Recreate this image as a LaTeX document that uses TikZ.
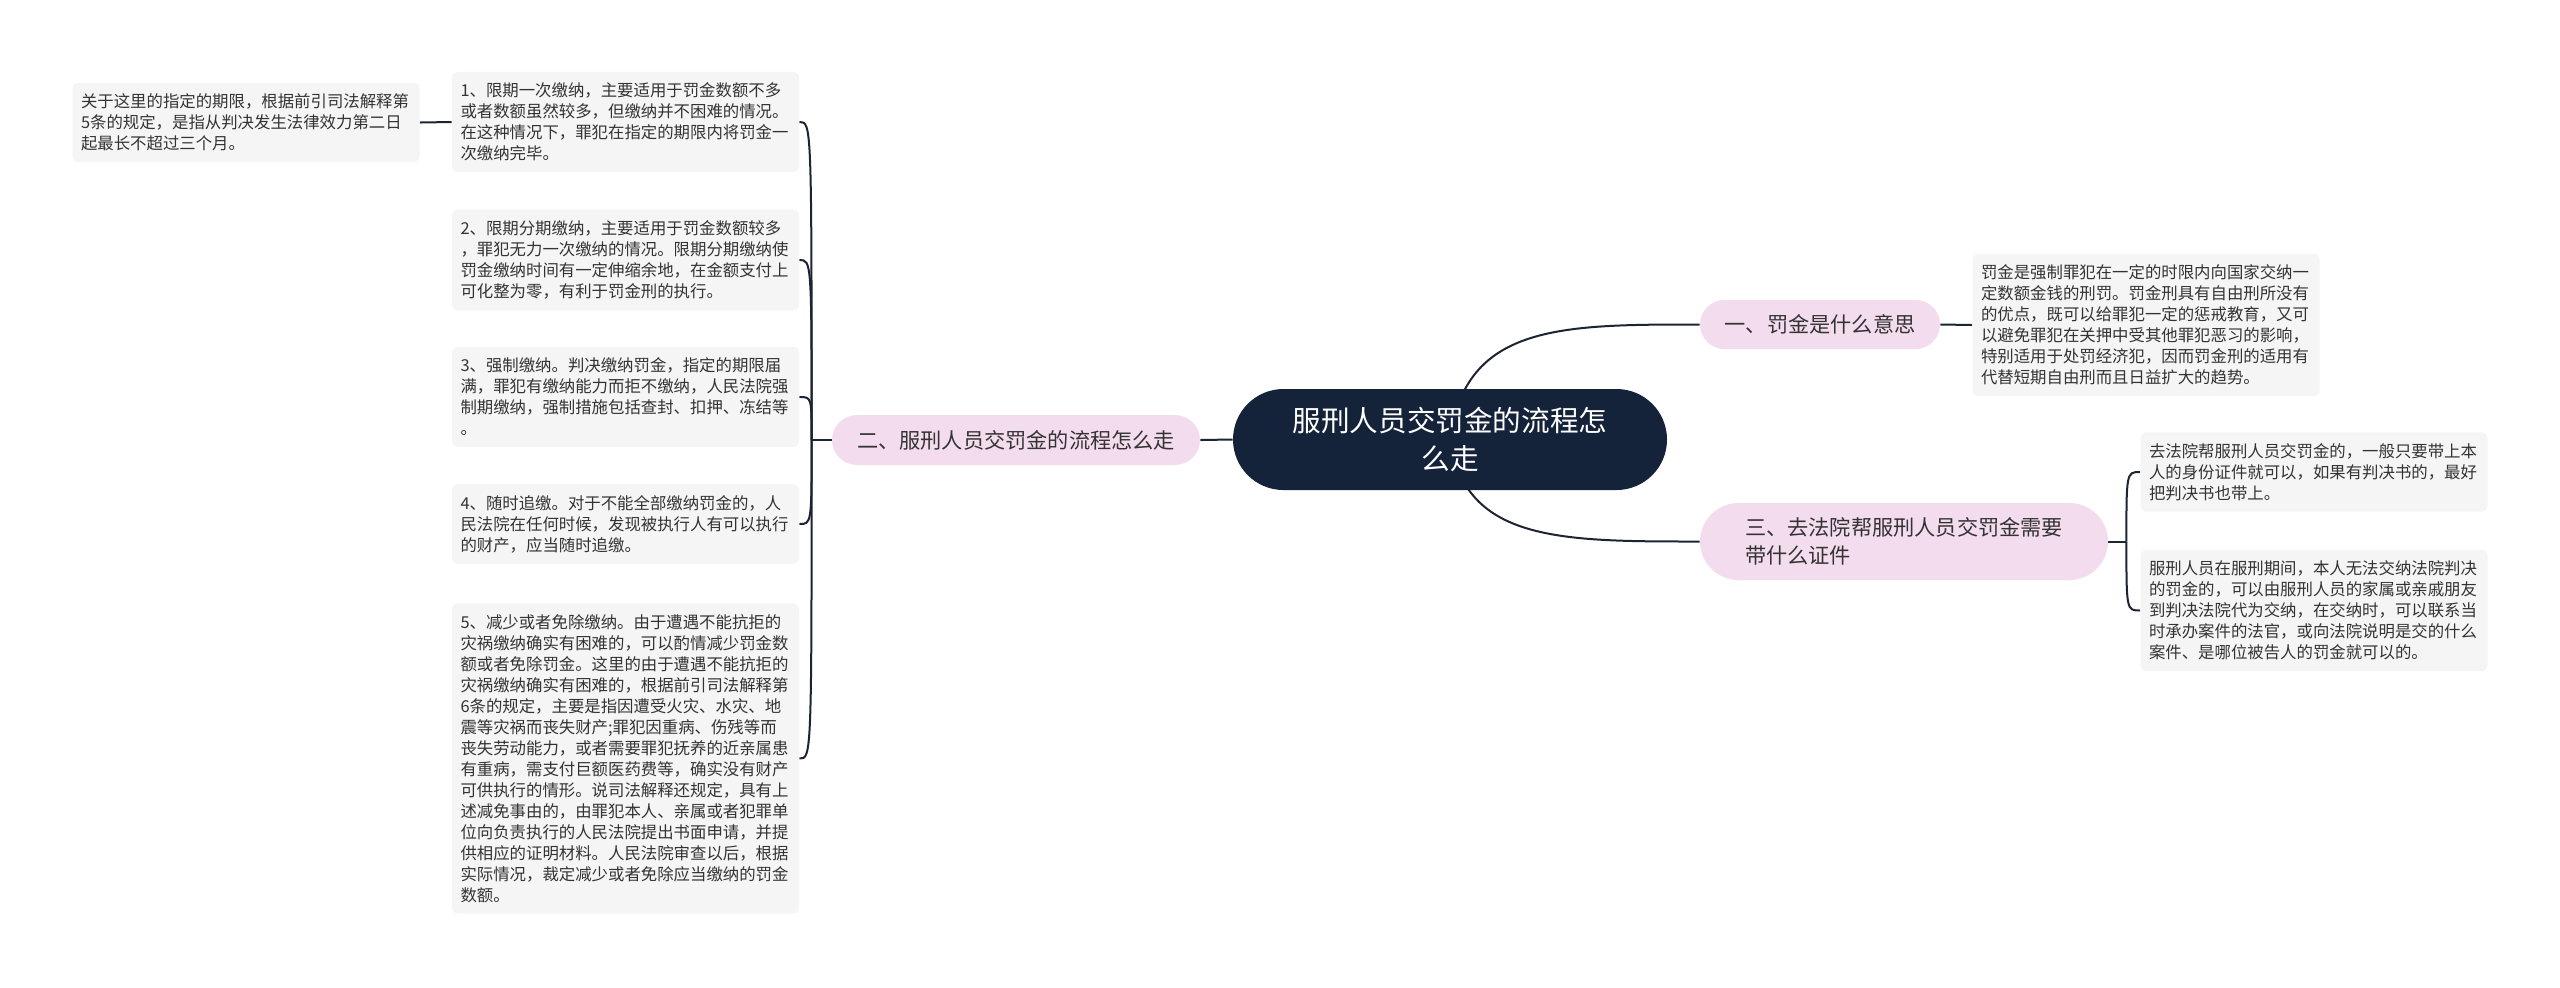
\documentclass[tikz,border=0pt]{standalone}
\usepackage{fontspec}
\usepackage{xcolor}
\usetikzlibrary{shapes.misc,backgrounds}
\newfontfamily\cjk{Noto Sans CJK SC}
\definecolor{RootColor}{HTML}{15233A}
\definecolor{BranchColor}{HTML}{F4DCEF}
\definecolor{LeafColor}{HTML}{F5F5F5}
\definecolor{LineColor}{HTML}{1C2433}
\definecolor{TextColor}{HTML}{333333}

\begin{document}
\begin{tikzpicture}[x=0.5pt, y=-0.5pt,
  rootnode/.style={rounded rectangle, fill=RootColor, text=white, align=center,
    inner sep=0pt, minimum width=217pt, minimum height=50.5pt,
    font=\cjk\fontsize{14.3}{19}\selectfont},
  branchnode/.style={rounded rectangle, fill=BranchColor, text=TextColor,
    inner sep=0pt, minimum height=24.5pt, font=\cjk\fontsize{10.6}{14}\selectfont},
  leafnode/.style={rectangle, rounded corners=3pt, fill=LeafColor, text=TextColor,
    text width=165pt, align=left, inner xsep=4.25pt, inner ysep=5.5pt,
    font=\cjk\fontsize{8.2}{10.5}\selectfont},
  link/.style={draw=LineColor, line width=1pt}]
  \useasboundingbox (0,0) rectangle (2560,987);

  % centre and main topics
  \node[rootnode] (root) at (1450,439.5) {服刑人员交罚金的流程怎\\么走};
  \node[branchnode, minimum width=120pt] (b1) at (1820,324.5) {一、罚金是什么意思};
  \node[branchnode, minimum width=184pt, minimum height=25pt] (b2) at (1016,440)
    {二、服刑人员交罚金的流程怎么走};
  \node[branchnode, minimum width=204pt, minimum height=38.5pt, align=left] (b3) at (1904,541.5)
    {三、去法院帮服刑人员交罚金需要\\带什么证件};

  % right side
  \node[leafnode] (meaning) at (2146,325) {罚金是强制罪犯在一定的时限内向国家交纳一\\
    定数额金钱的刑罚。罚金刑具有自由刑所没有\\
    的优点，既可以给罪犯一定的惩戒教育，又可\\
    以避免罪犯在关押中受其他罪犯恶习的影响，\\
    特别适用于处罚经济犯，因而罚金刑的适用有\\
    代替短期自由刑而且日益扩大的趋势。};
  \node[leafnode] (idcard) at (2314,472) {去法院帮服刑人员交罚金的，一般只要带上本\\
    人的身份证件就可以，如果有判决书的，最好\\
    把判决书也带上。};
  \node[leafnode] (relative) at (2314,610.5) {服刑人员在服刑期间，本人无法交纳法院判决\\
    的罚金的，可以由服刑人员的家属或亲戚朋友\\
    到判决法院代为交纳，在交纳时，可以联系当\\
    时承办案件的法官，或向法院说明是交的什么\\
    案件、是哪位被告人的罚金就可以的。};

  % left side
  \node[leafnode] (step1) at (625.5,122) {1、限期一次缴纳，主要适用于罚金数额不多\\
    或者数额虽然较多，但缴纳并不困难的情况。\\
    在这种情况下，罪犯在指定的期限内将罚金一\\
    次缴纳完毕。};
  \node[leafnode] (step2) at (625.5,260) {2、限期分期缴纳，主要适用于罚金数额较多\\
    ，罪犯无力一次缴纳的情况。限期分期缴纳使\\
    罚金缴纳时间有一定伸缩余地，在金额支付上\\
    可化整为零，有利于罚金刑的执行。};
  \node[leafnode] (step3) at (625.5,397) {3、强制缴纳。判决缴纳罚金，指定的期限届\\
    满，罪犯有缴纳能力而拒不缴纳，人民法院强\\
    制期缴纳，强制措施包括查封、扣押、冻结等\\
    。};
  \node[leafnode] (step4) at (625.5,524) {4、随时追缴。对于不能全部缴纳罚金的，人\\
    民法院在任何时候，发现被执行人有可以执行\\
    的财产，应当随时追缴。};
  \node[leafnode] (step5) at (625.5,758.5) {5、减少或者免除缴纳。由于遭遇不能抗拒的\\
    灾祸缴纳确实有困难的，可以酌情减少罚金数\\
    额或者免除罚金。这里的由于遭遇不能抗拒的\\
    灾祸缴纳确实有困难的，根据前引司法解释第\\
    6条的规定，主要是指因遭受火灾、水灾、地\\
    震等灾祸而丧失财产;罪犯因重病、伤残等而\\
    丧失劳动能力，或者需要罪犯抚养的近亲属患\\
    有重病，需支付巨额医药费等，确实没有财产\\
    可供执行的情形。说司法解释还规定，具有上\\
    述减免事由的，由罪犯本人、亲属或者犯罪单\\
    位向负责执行的人民法院提出书面申请，并提\\
    供相应的证明材料。人民法院审查以后，根据\\
    实际情况，裁定减少或者免除应当缴纳的罚金\\
    数额。};
  \node[leafnode] (limit) at (246,122.5) {关于这里的指定的期限，根据前引司法解释第\\
    5条的规定，是指从判决发生法律效力第二日\\
    起最长不超过三个月。};

  % connectors
  \begin{scope}[on background layer]
    \fill[white] (0,0) rectangle (2560,987);
    \draw[link] (root.center) .. controls (1465,324.5) and (1560,324.5) .. (b1.west);
    \draw[link] (root.center) .. controls (1465,541.5) and (1560,541.5) .. (b3.west);
    \draw[link] (root.west) -- (b2.east);
    \draw[link] (b1.east) -- (meaning.west);
    \draw[link] (b2.west) -- ++(-20,0) coordinate (j2);
    \foreach \leaf in {step1,step2,step3,step4,step5}
      \draw[link] (j2) .. controls (j2 |- \leaf.east) .. (\leaf.east);
    \draw[link] (step1.west) -- (limit.east);
    \draw[link] (b3.east) -- ++(18,0) coordinate (j3);
    \foreach \leaf in {idcard,relative}
      \draw[link] (j3) .. controls (j3 |- \leaf.west) .. (\leaf.west);
  \end{scope}
\end{tikzpicture}
\end{document}
